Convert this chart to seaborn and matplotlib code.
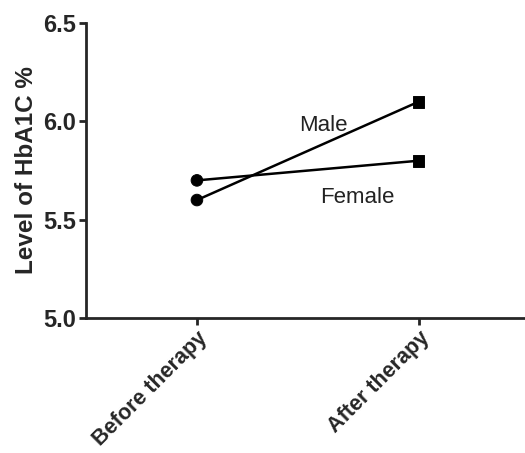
import matplotlib
matplotlib.use('Agg')

import matplotlib.pyplot as plt
import matplotlib.transforms as mtransforms
import seaborn as sns
import pandas as pd

timepoints = ['Before therapy', 'After therapy']
male_hba1c = [5.6, 6.1]
female_hba1c = [5.7, 5.8]

df = pd.DataFrame({
    'time': timepoints * 2,
    'group': ['Male'] * 2 + ['Female'] * 2,
    'value': male_hba1c + female_hba1c,
})

sns.set_style('ticks')
plt.rcParams['font.family'] = ['Liberation Sans', 'DejaVu Sans']

fig = plt.figure(figsize=(5.25, 4.53), dpi=100)
ax = fig.add_axes([0.164, 0.298, 0.836, 0.651])

sns.lineplot(data=df, x='time', y='value', units='group', estimator=None,
             color='black', linewidth=1.8, ax=ax, legend=False)
sns.scatterplot(data=df, x='time', y='value', style='time',
                markers={'Before therapy': 'o', 'After therapy': 's'},
                color='black', s=70, edgecolor='black', ax=ax, legend=False, zorder=3)

ax.text(0.57, 5.98, 'Male', fontsize=16, ha='center', va='center', color='#222222')
ax.text(0.725, 5.615, 'Female', fontsize=16, ha='center', va='center', color='#222222')

ax.set_xlim(-0.5, 1.48)
ax.set_ylim(5.0, 6.5)
ax.set_yticks([5.0, 5.5, 6.0, 6.5])
ax.set_yticklabels(['5.0', '5.5', '6.0', '6.5'], fontsize=17, fontweight='bold')
ax.set_xticks([0, 1])
ax.set_xticklabels(timepoints, fontsize=15.5, fontweight='bold',
                   rotation=45, ha='right', rotation_mode='anchor')
offset = mtransforms.ScaledTranslation(-6 / 72, -4 / 72, fig.dpi_scale_trans)
for lbl in ax.get_xticklabels():
    lbl.set_transform(lbl.get_transform() + offset)
ax.set_xlabel('')
ax.set_ylabel('Level of HbA1C %', fontsize=17.5, fontweight='bold', labelpad=4)

for side in ['top', 'right']:
    ax.spines[side].set_visible(False)
for side in ['left', 'bottom']:
    ax.spines[side].set_linewidth(2)
ax.tick_params(width=2, length=5, direction='out', pad=2)

plt.savefig('out.png', dpi=100)
plt.close()
